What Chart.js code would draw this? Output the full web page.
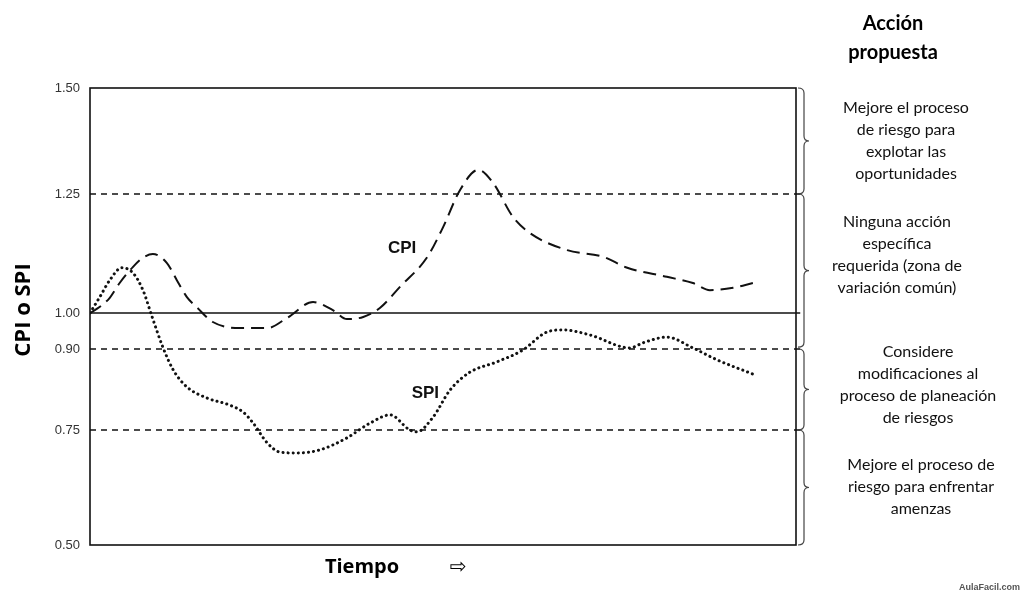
<!DOCTYPE html>
<html>
<head>
<meta charset="utf-8">
<script src="https://cdn.jsdelivr.net/npm/chart.js@4"></script>
<style>
  html, body { margin: 0; padding: 0; background: #fff; }
  #wrap { width: 1024px; height: 595px; position: relative; }
</style>
</head>
<body>
<div id="wrap"><canvas id="c" width="1024" height="595"></canvas></div>
<script>
// ---- data ----
const yTickValues = [0.50, 0.75, 0.90, 1.00, 1.25, 1.50];
const yTickLabels = ['0.50', '0.75', '0.90', '1.00', '1.25', '1.50'];
const referenceLevels = [1.25, 1.00, 0.90, 0.75];

const cpiTime = [0, 1.4, 2.8, 4.2, 6.1, 7.5, 8.9, 10.9, 12.3, 13.7, 15.2, 17.4, 21.2, 25.1, 27.9, 31.6, 34.4, 36.4, 38.7, 41.1, 43.9, 47.7, 50.0, 52.4, 55.0, 57.1, 59.9, 62.3, 67.6, 72.7, 76.1, 81.7, 85.4, 87.8, 91.1, 93.9];
const cpiValues = [1.00, 1.013, 1.032, 1.063, 1.097, 1.116, 1.124, 1.105, 1.069, 1.034, 1.011, 0.975, 0.958, 0.958, 0.986, 1.023, 1.006, 0.983, 0.989, 1.011, 1.055, 1.116, 1.18, 1.259, 1.307, 1.276, 1.202, 1.168, 1.132, 1.118, 1.095, 1.076, 1.063, 1.048, 1.053, 1.063];

const spiTime = [0, 1.4, 2.8, 4.5, 6.1, 7.5, 8.8, 10.3, 11.8, 13.7, 16.6, 19.8, 21.7, 23.1, 25.1, 26.9, 29.3, 32.6, 36.4, 39.7, 42.5, 45.3, 46.3, 48.6, 51.0, 53.8, 57.6, 61.3, 64.7, 67.0, 70.8, 76.5, 78.3, 81.7, 85.4, 88.8, 94.2];
const spiValues = [1.00, 1.034, 1.069, 1.095, 1.084, 1.048, 0.989, 0.906, 0.861, 0.830, 0.809, 0.796, 0.783, 0.763, 0.722, 0.702, 0.700, 0.707, 0.733, 0.763, 0.778, 0.75, 0.746, 0.774, 0.824, 0.857, 0.876, 0.898, 0.947, 0.953, 0.939, 0.903, 0.917, 0.933, 0.903, 0.880, 0.852];

const actionTitle = ['Acción', 'propuesta'];
const actionZones = [
  { from: 1.50, to: 1.25, lines: ['Mejore el proceso', 'de riesgo para', 'explotar las', 'oportunidades'] },
  { from: 1.25, to: 0.905, lines: ['Ninguna acción', 'específica', 'requerida (zona de', 'variación común)'] },
  { from: 0.90, to: 0.75, lines: ['Considere', 'modificaciones al', 'proceso de planeación', 'de riesgos'] },
  { from: 0.75, to: 0.50, lines: ['Mejore el proceso de', 'riesgo para enfrentar', 'amenzas'] }
];

// ---- layout (irregular axis spacing of the original, px between ticks) ----
const yTickPositions = [0, 115, 196, 232, 351, 457];
const textLayout = [
  { x: 906, y: 108 }, { x: 897, y: 222 }, { x: 918, y: 352 }, { x: 921, y: 465 }
];

function toPos(v) {
  for (let i = 0; i < yTickValues.length - 1; i++) {
    const a = yTickValues[i], b = yTickValues[i + 1];
    if (v <= b || i === yTickValues.length - 2) {
      const pa = yTickPositions[i], pb = yTickPositions[i + 1];
      return pa + (v - a) / (b - a) * (pb - pa);
    }
  }
}
const toPoints = (t, v) => t.map((x, i) => ({ x: x, y: toPos(v[i]) }));

const refDatasets = referenceLevels.map(l => ({
  data: [{ x: 0, y: toPos(l) }, { x: 100.6, y: toPos(l) }],
  borderColor: '#111',
  borderWidth: l === 1.00 ? 1.5 : 1.3,
  borderDash: l === 1.00 ? [] : [6, 5],
  pointRadius: 0,
  tension: 0,
  clip: false
}));

const decor = {
  id: 'decor',
  afterDraw(chart) {
    const ctx = chart.ctx, ca = chart.chartArea, ys = chart.scales.y, xs = chart.scales.x;
    ctx.save();
    // frame
    ctx.strokeStyle = '#111';
    ctx.lineWidth = 1.6;
    ctx.strokeRect(ca.left, ca.top, ca.right - ca.left, ca.bottom - ca.top);
    // series labels
    ctx.fillStyle = '#111';
    ctx.font = 'bold 17px "Liberation Sans"';
    ctx.textAlign = 'center';
    ctx.textBaseline = 'middle';
    ctx.fillText('CPI', xs.getPixelForValue(44.2), ys.getPixelForValue(toPos(1.135)));
    ctx.fillText('SPI', xs.getPixelForValue(47.5), ys.getPixelForValue(toPos(0.818)));
    // y title
    ctx.save();
    ctx.translate(24, 310);
    ctx.rotate(-Math.PI / 2);
    ctx.fillStyle = '#000';
    ctx.font = 'bold 22px "Open Sans"';
    ctx.fillText('CPI o SPI', 0, 0);
    ctx.restore();
    // x title + arrow
    ctx.fillStyle = '#000';
    ctx.font = 'bold 20px "Open Sans"';
    ctx.fillText('Tiempo', 362, 567);
    ctx.font = '20px "DejaVu Sans"';
    ctx.fillText('⇨', 458, 568);
    // action title
    ctx.font = 'bold 20px Lato';
    ctx.fillText(actionTitle[0], 893, 24);
    ctx.fillText(actionTitle[1], 893, 53);
    // zones: braces + text
    ctx.font = '16px Lato';
    actionZones.forEach((z, i) => {
      const y1 = ys.getPixelForValue(toPos(z.from));
      const y2 = ys.getPixelForValue(toPos(z.to));
      const x = ca.right + 8, ym = (y1 + y2) / 2;
      ctx.strokeStyle = '#444';
      ctx.lineWidth = 1.2;
      ctx.beginPath();
      ctx.moveTo(x - 6, y1);
      ctx.quadraticCurveTo(x, y1, x, y1 + 5);
      ctx.lineTo(x, ym - 5);
      ctx.quadraticCurveTo(x, ym, x + 5, ym);
      ctx.quadraticCurveTo(x, ym, x, ym + 5);
      ctx.lineTo(x, y2 - 5);
      ctx.quadraticCurveTo(x, y2, x - 6, y2);
      ctx.stroke();
      ctx.fillStyle = '#111';
      z.lines.forEach((ln, k) => ctx.fillText(ln, textLayout[i].x, textLayout[i].y + k * 22));
    });
    // watermark
    ctx.font = 'bold 9px "Liberation Sans"';
    ctx.fillStyle = '#555';
    ctx.textAlign = 'right';
    ctx.fillText('AulaFacil.com', 1020, 588);
    ctx.restore();
  }
};

new Chart(document.getElementById('c'), {
  type: 'line',
  data: {
    datasets: [
      ...refDatasets,
      {
        label: 'CPI',
        data: toPoints(cpiTime, cpiValues),
        borderColor: '#111',
        borderWidth: 2,
        borderDash: [13, 7],
        pointRadius: 0,
        cubicInterpolationMode: 'monotone'
      },
      {
        label: 'SPI',
        data: toPoints(spiTime, spiValues),
        borderColor: '#111',
        borderWidth: 3,
        borderDash: [0.1, 5],
        borderCapStyle: 'round',
        pointRadius: 0,
        cubicInterpolationMode: 'monotone'
      }
    ]
  },
  options: {
    responsive: false,
    animation: false,
    layout: { padding: { top: 88, right: 228, bottom: 50, left: 0 } },
    plugins: { legend: { display: false }, tooltip: { enabled: false } },
    scales: {
      x: { type: 'linear', min: 0, max: 100, display: false },
      y: {
        type: 'linear', min: 0, max: 457,
        afterFit: s => { s.width = 90; },
        afterBuildTicks: s => { s.ticks = yTickPositions.map(p => ({ value: p })); },
        grid: { display: false, drawTicks: false },
        border: { display: false },
        ticks: {
          padding: 10,
          autoSkip: false,
          color: '#333',
          font: { family: 'Liberation Sans', size: 13 },
          callback: (v, i) => yTickLabels[i]
        },
        title: { display: false }
      }
    }
  },
  plugins: [decor]
});
</script>
</body>
</html>
